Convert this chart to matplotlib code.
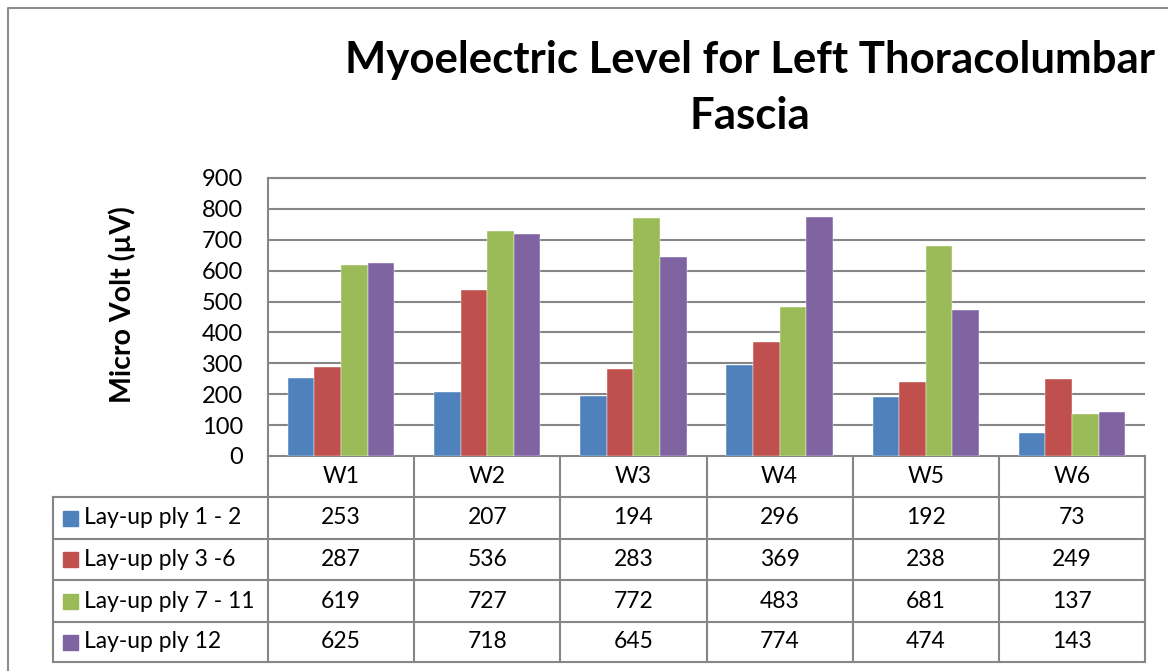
import matplotlib.pyplot as plt
import numpy as np

weeks = ["W1", "W2", "W3", "W4", "W5", "W6"]
series = ["Lay-up ply 1 - 2", "Lay-up ply 3 -6", "Lay-up ply 7 - 11", "Lay-up ply 12"]
ply_1_2 = [253, 207, 194, 296, 192, 73]
ply_3_6 = [287, 536, 283, 369, 238, 249]
ply_7_11 = [619, 727, 772, 483, 681, 137]
ply_12 = [625, 718, 645, 774, 474, 143]
values = [ply_1_2, ply_3_6, ply_7_11, ply_12]
colors = ["#4f81bd", "#c0504d", "#9bbb59", "#8064a2"]

W, H = 1168, 671
font = "Lato"
grid = "#868686"

fig = plt.figure(figsize=(W / 100, H / 100), dpi=100, facecolor="white")

# plot area in pixel coordinates
left, right, top, bottom = 268, 1145, 178, 456
ax = fig.add_axes([left / W, 1 - bottom / H, (right - left) / W, (bottom - top) / H])
x = np.arange(len(weeks)) + 0.5
bw = 0.182
for i, vals in enumerate(values):
    ax.bar(x + (i - 1.5) * bw, vals, bw, color=colors[i], zorder=3,
           edgecolor="white", linewidth=0.3)
ax.set_xlim(0, len(weeks))
ax.set_ylim(0, 900)
ax.set_yticks(range(0, 901, 100))
ax.set_xticks([])
ax.yaxis.grid(True, color=grid, linewidth=1.5, zorder=0)
for s in ["right", "bottom"]:
    ax.spines[s].set_visible(False)
for s in ["left", "top"]:
    ax.spines[s].set_color(grid)
    ax.spines[s].set_linewidth(1.5)
ax.tick_params(axis="y", length=0, pad=18, labelsize=17)
for lab in ax.get_yticklabels():
    lab.set_fontfamily(font)

# overlay in pixel coordinates for title, border and data table
ov = fig.add_axes([0, 0, 1, 1], zorder=-1)
ov.set_xlim(0, W)
ov.set_ylim(H, 0)
ov.axis("off")
ov.plot([8, 8, W + 5], [H + 5, 8, 8], color="#8c8c8c", lw=1.5)

ov.text(750, 60, "Myoelectric Level for Left Thoracolumbar", ha="center", va="center",
        fontsize=31.5, fontweight="bold", fontfamily=font)
ov.text(750, 116, "Fascia", ha="center", va="center",
        fontsize=31.5, fontweight="bold", fontfamily=font)
ov.text(122, 305, "Micro Volt (µV)", ha="center", va="center", rotation=90,
        fontsize=20.5, fontweight="bold", fontfamily=font)

cols = np.linspace(left, right, len(weeks) + 1)
rows = [456, 497, 539, 580, 622, 662]
tl = 53
lw = 1.5
# horizontal lines
ov.plot([left, right], [rows[0], rows[0]], color=grid, lw=lw)
for r in rows[1:]:
    ov.plot([tl, right], [r, r], color=grid, lw=lw)
# vertical lines
for c in cols:
    ov.plot([c, c], [rows[0], rows[-1]], color=grid, lw=lw)
ov.plot([tl, tl], [rows[1], rows[-1]], color=grid, lw=lw)

fs = 16.5
for j, w in enumerate(weeks):
    cx = (cols[j] + cols[j + 1]) / 2
    ov.text(cx, (rows[0] + rows[1]) / 2, w, ha="center", va="center",
            fontsize=fs, fontfamily=font)
for i, name in enumerate(series):
    cy = (rows[i + 1] + rows[i + 2]) / 2
    ov.add_patch(plt.Rectangle((63, cy - 7.5), 15, 15, color=colors[i]))
    ov.text(84, cy, name, ha="left", va="center", fontsize=fs, fontfamily=font)
    for j, v in enumerate(values[i]):
        cx = (cols[j] + cols[j + 1]) / 2
        ov.text(cx, cy, str(v), ha="center", va="center", fontsize=fs, fontfamily=font)

fig.savefig("out.png", dpi=100, facecolor="white")
